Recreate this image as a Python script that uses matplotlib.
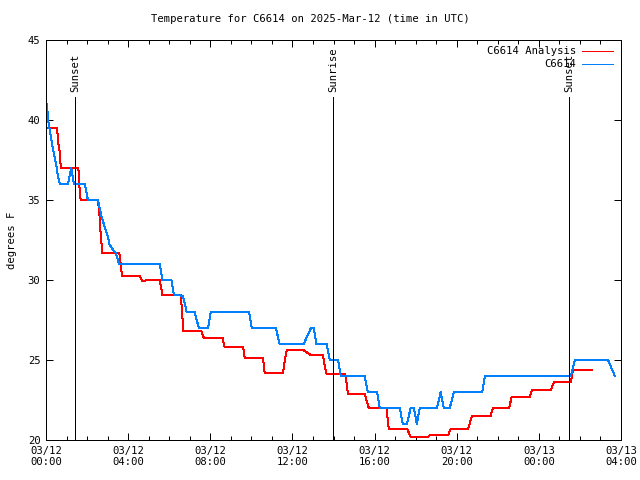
import matplotlib
matplotlib.use("Agg")
import matplotlib.pyplot as plt
from matplotlib.ticker import MultipleLocator

# ---- data (hours since 2025-03-12 00:00 UTC) ----
analysis_t = [0.00, 0.54, 0.59, 0.67, 0.72, 1.56, 1.61, 1.64, 1.69, 2.53, 2.61, 2.66, 2.74,
              3.56, 3.59, 3.70, 4.56, 4.67, 5.54, 5.67, 6.56, 6.63, 6.68, 7.57, 7.68, 8.59,
              8.70, 9.60, 9.68, 10.57, 10.65, 11.54, 11.63, 11.72, 12.55, 12.91, 13.49, 13.58,
              13.67, 14.58, 14.70, 15.52, 15.62, 15.72, 16.58, 16.69, 17.58, 17.76, 18.61,
              18.69, 19.58, 19.71, 20.56, 20.74, 21.65, 21.76, 22.55, 22.68, 23.56, 23.66,
              24.58, 24.73, 25.56, 25.66, 26.57]
analysis_v = [39.5, 39.5, 38.6, 38.0, 37.0, 37.0, 36.7, 35.4, 35.0, 35.0, 34.0, 32.9, 31.7,
              31.7, 31.5, 30.25, 30.25, 29.96, 30.0, 29.06, 29.06, 28.0, 26.8, 26.8, 26.4, 26.4,
              25.8, 25.8, 25.1, 25.1, 24.2, 24.2, 25.0, 25.6, 25.6, 25.3, 25.3, 24.6,
              24.1, 24.1, 22.9, 22.9, 22.4, 22.0, 22.0, 20.7, 20.7, 20.2, 20.2,
              20.3, 20.3, 20.7, 20.7, 21.5, 21.5, 22.0, 22.0, 22.7, 22.7, 23.1,
              23.1, 23.6, 23.6, 24.4, 24.4]

obs_t = [0.05, 0.10, 0.18, 0.26, 0.34, 0.42, 0.51, 0.58, 0.67, 1.07, 1.23, 1.36, 1.89, 2.04,
         2.53, 2.70, 2.86, 3.01, 3.10, 3.20, 3.39, 3.56, 5.54, 5.67, 6.11, 6.22, 6.67, 6.85,
         7.24, 7.44, 7.89, 8.02, 9.89, 10.02, 11.19, 11.38, 12.55, 12.90, 13.04, 13.17, 13.66,
         13.82, 14.22, 14.35, 15.52, 15.67, 16.12, 16.25, 17.23, 17.37, 17.57, 17.76, 17.91,
         18.06, 18.20, 19.04, 19.22, 19.37, 19.66, 19.86, 21.24, 21.37, 25.56, 25.75, 27.37,
         27.70]
obs_v = [41.0, 40.0, 39.4, 38.75, 38.2, 37.7, 37.1, 36.5, 36.0, 36.0, 37.0, 36.0, 36.0, 35.0,
         35.0, 34.0, 33.3, 32.7, 32.2, 32.0, 31.7, 31.0, 31.0, 30.0, 30.0, 29.1, 29.0, 28.0,
         28.0, 27.0, 27.0, 28.0, 28.0, 27.0, 27.0, 26.0, 26.0, 27.0, 27.0, 26.0, 26.0,
         25.0, 25.0, 24.0, 24.0, 23.0, 23.0, 22.0, 22.0, 21.0, 21.0, 22.0, 22.0,
         21.0, 22.0, 22.0, 23.0, 22.0, 22.0, 23.0, 23.0, 24.0, 24.0, 25.0, 25.0,
         24.0]

event_t = [1.43, 13.98, 25.48]
event_labels = ["Sunset", "Sunrise", "Sunset"]

xtick_pos = [0, 4, 8, 12, 16, 20, 24, 28]
xtick_labels = ["03/12\n00:00", "03/12\n04:00", "03/12\n08:00", "03/12\n12:00",
                "03/12\n16:00", "03/12\n20:00", "03/13\n00:00", "03/13\n04:00"]
yticks = [20, 25, 30, 35, 40, 45]

title = "Temperature for C6614 on 2025-Mar-12 (time in UTC)"
series_names = ["C6614 Analysis", "C6614"]

FONT = "DejaVu Sans Mono"
FS = 7.6
LW = 0.72
plt.rcParams['font.family'] = [FONT]

fig = plt.figure(figsize=(6.4, 4.8), dpi=100)
ax = fig.add_axes([46/640, 40/480, 575/640, 400/480])

l1, = ax.plot(analysis_t, analysis_v, color="#ff0000", lw=LW, antialiased=False)
l2, = ax.plot(obs_t, obs_v, color="#0080ff", lw=LW, antialiased=False)

for t, lab in zip(event_t, event_labels):
    ax.plot([t, t], [20, 20 + 25 * 0.857], color="black", lw=LW, antialiased=False)
    ax.text(t, 20 + 25 * 0.87, lab, rotation=90, ha="center", va="bottom",
            fontsize=FS, family=FONT)

ax.set_xlim(0, 28)
ax.set_ylim(20, 45)
ax.set_xticks(xtick_pos)
ax.set_xticklabels(xtick_labels, fontsize=FS, family=FONT)
ax.xaxis.set_minor_locator(MultipleLocator(1))
ax.set_yticks(yticks)
ax.set_yticklabels([str(v) for v in yticks], fontsize=FS, family=FONT)
ax.tick_params(which="both", direction="in", top=True, right=True, width=LW, color="black")
ax.tick_params(which="major", length=5, pad=4)
ax.tick_params(which="minor", length=3)
for s in ax.spines.values():
    s.set_linewidth(LW)
    s.set_color("black")

ax.set_ylabel("degrees F", fontsize=FS, family=FONT, labelpad=8)
fig.text(310/640, 1 - 19/480, title, ha="center", va="center", fontsize=FS, family=FONT)

leg = ax.legend([l1, l2], series_names, loc="upper right", frameon=False,
                prop={"family": FONT, "size": FS}, handlelength=2.9, markerfirst=False,
                labelspacing=0.3, borderaxespad=0.0, handletextpad=0.55,
                bbox_to_anchor=(0.993, 0.995))
for t in leg.get_texts():
    t.set_ha("right")

fig.savefig("out.png", dpi=100)
